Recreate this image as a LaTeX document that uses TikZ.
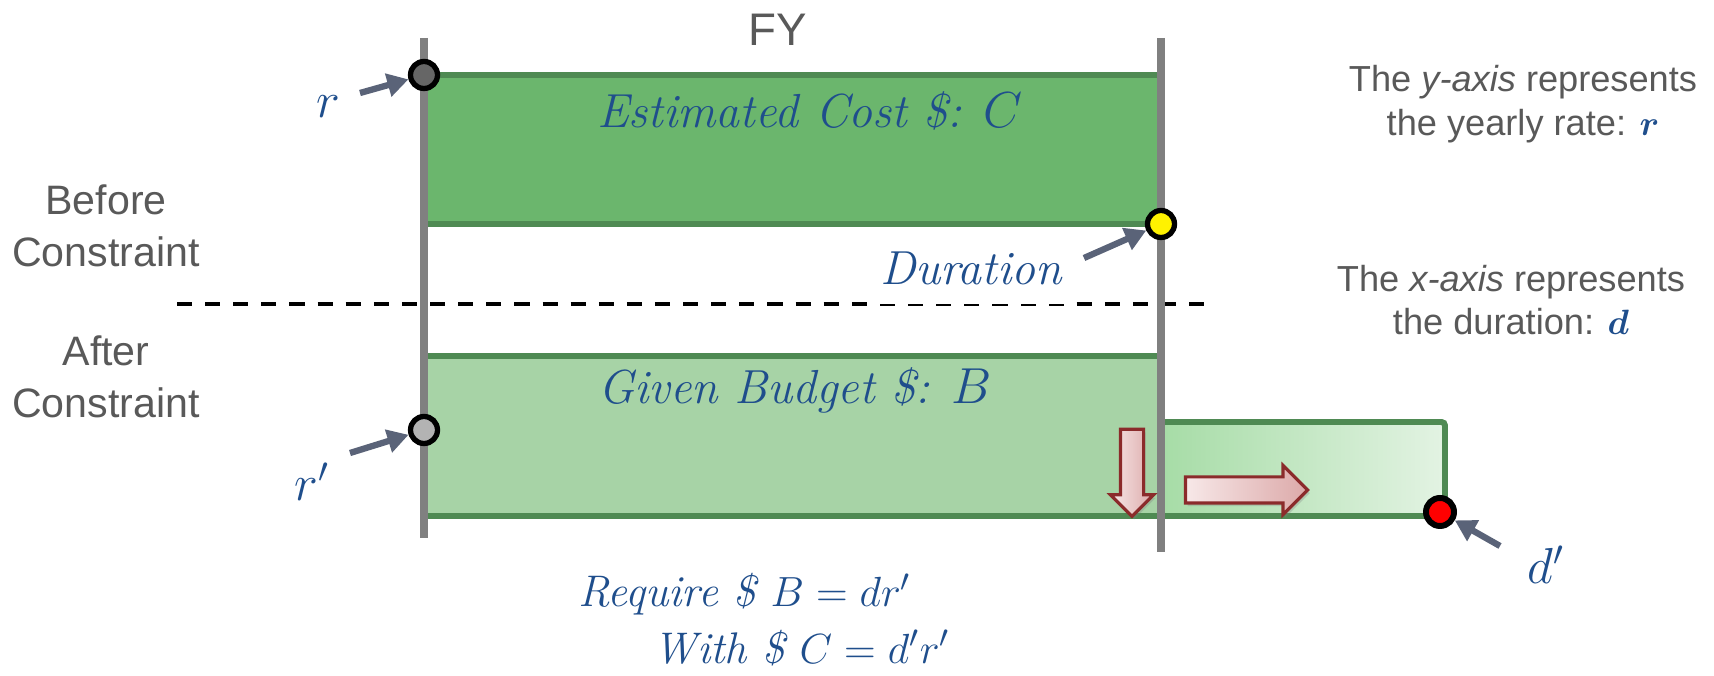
\documentclass[tikz,border=0pt]{standalone}
\usepackage{amsmath}
\usepackage{bm}
\usepackage{fontspec}
\setsansfont{Liberation Sans}
\usetikzlibrary{
    arrows.meta,
    positioning,
    shapes.arrows,
    shadows
}
\tikzset{
  bar/.style     = {draw=BarGray, line width=2.5pt},
  edge/.style    = {draw=EdgeGreen, line width=1.7pt},
  dot/.style     = {circle, draw=black, line width=1.5pt,
                    minimum size=0.27cm, inner sep=0pt},
  ptr/.style     = {-{Triangle[length=6pt, width=6.5pt]}, line width=1.8pt,
                    PtrSlate},
  mlabel/.style  = {text=MathBlue, inner sep=0pt,
                    font=\fontsize{13.6}{16}\selectfont},
  glabel/.style  = {text=TextGray, align=center, inner sep=0pt,
                    font=\sffamily\fontsize{11.7}{14.7}\selectfont},
  nlabel/.style  = {text=TextGray, align=center, inner sep=0pt,
                    font=\sffamily\fontsize{10.3}{12.4}\selectfont},
  move/.style    = {single arrow, draw=ArrowRed, line width=0.9pt,
                    single arrow tip angle=90, inner xsep=0pt,
                    left color=ArrowLight, right color=ArrowDark,
                    drop shadow={opacity=0.3, shadow xshift=0.6pt,
                    shadow yshift=-0.9pt}}
}
\definecolor{BarGray}{RGB}{128,128,128}
\definecolor{CostGreen}{RGB}{107,182,109}
\definecolor{BudgetGreen}{RGB}{167,211,166}
\definecolor{EdgeGreen}{RGB}{79,138,83}
\definecolor{ExtLeft}{RGB}{166,220,166}
\definecolor{ExtRight}{RGB}{227,243,227}
\definecolor{ArrowRed}{RGB}{139,43,43}
\definecolor{ArrowLight}{RGB}{247,232,232}
\definecolor{ArrowDark}{RGB}{220,169,169}
\definecolor{MathBlue}{RGB}{31,78,140}
\definecolor{TextGray}{RGB}{89,89,89}
\definecolor{PtrSlate}{RGB}{90,99,120}
\definecolor{DotDark}{RGB}{102,102,102}
\definecolor{DotLight}{RGB}{179,179,179}

\begin{document}
\begin{tikzpicture}
\useasboundingbox (0,0) rectangle (17.14,6.75);
% blocks: estimated cost, given budget, stretched duration
\fill[CostGreen] (4.24,4.51) rectangle (11.61,6.00);
\draw[edge] (4.24,6.00) -- (11.61,6.00) (4.24,4.51) -- (11.61,4.51);
\fill[BudgetGreen] (4.24,1.59) rectangle (11.61,3.19);
\draw[edge] (4.24,3.19) -- (11.61,3.19) (4.24,1.59) -- (11.61,1.59);
\draw[edge, rounded corners=1pt, left color=ExtLeft, right color=ExtRight]
  (11.61,1.59) rectangle (14.45,2.53);
\draw[dash pattern=on 4.3pt off 3.7pt, line width=1.1pt] (1.77,3.71) -- (12.15,3.71);
% fiscal year bounds
\draw[bar] (4.24,6.37) -- (4.24,1.37);
\draw[bar] (11.61,6.37) -- (11.61,1.23);
\node[glabel, font=\sffamily\fontsize{13}{15}\selectfont, anchor=base] (fy) at (7.78,6.29) {FY};
\node[glabel] (before) at (1.06,4.49) {Before\\Constraint};
\node[glabel] (after) at (1.06,2.985) {After\\Constraint};
\node[mlabel, anchor=base] (cost) at (8.10,5.47) {\itshape Estimated Cost \$: $C$};
\node[mlabel, anchor=base] (budget) at (7.95,2.71) {\itshape Given Budget \$: $B$};
\node[mlabel, anchor=base, fill=white, inner xsep=0.1cm, inner ysep=0.19cm,
  text depth=0pt] (dur) at (9.71,3.90) {\itshape Duration};
% shift of rate and duration
\node[move, rotate=-90, minimum height=0.87cm, inner ysep=0.1cm,
  single arrow head extend=0.1cm] (down) at (11.32,2.08) {};
\node[move, minimum height=1.22cm, inner ysep=0.115cm,
  single arrow head extend=0.115cm] (right) at (12.40,1.85) {};
% end points
\node[dot, fill=DotDark] (rdot) at (4.24,6.00) {};
\node[dot, fill=DotLight] (rpdot) at (4.24,2.45) {};
\node[dot, fill=yellow] (ddot) at (11.61,4.51) {};
\node[dot, fill=red, line width=1.7pt, minimum size=0.28cm] (dpdot) at (14.40,1.63) {};
\node[mlabel, anchor=base] (r) at (3.28,5.57) {$r$};
\node[mlabel, anchor=base] (rp) at (3.12,1.74) {$r'$};
\node[mlabel, anchor=base] (dp) at (15.46,0.91) {$d'$};
\coordinate (rtail) at (3.60,5.82);
\coordinate (rptail) at (3.50,2.22);
\coordinate (dtail) at (10.84,4.17);
\coordinate (dptail) at (15.00,1.29);
\draw[ptr] (rtail) -- (rdot);
\draw[ptr] (rptail) -- (rpdot);
\draw[ptr] (dtail) -- (ddot);
\draw[ptr] (dptail) -- (dpdot);
% relations
\node[mlabel, font=\fontsize{12.6}{15}\selectfont, anchor=base] (req) at (7.45,0.68)
  {\itshape Require \$ $B = dr'$};
\node[mlabel, font=\fontsize{12.6}{15}\selectfont, anchor=base] (with) at (8.02,0.12)
  {\itshape With \$ $C = d'r'$};
\node[nlabel] (ynote) at (15.23,5.71)
  {The \textit{y-axis} represents\\the yearly rate: \textcolor{MathBlue}{$\bm{r}$}};
\node[nlabel] (xnote) at (15.11,3.75)
  {The \textit{x-axis} represents\\the duration: \textcolor{MathBlue}{$\bm{d}$}};
\end{tikzpicture}
\end{document}
